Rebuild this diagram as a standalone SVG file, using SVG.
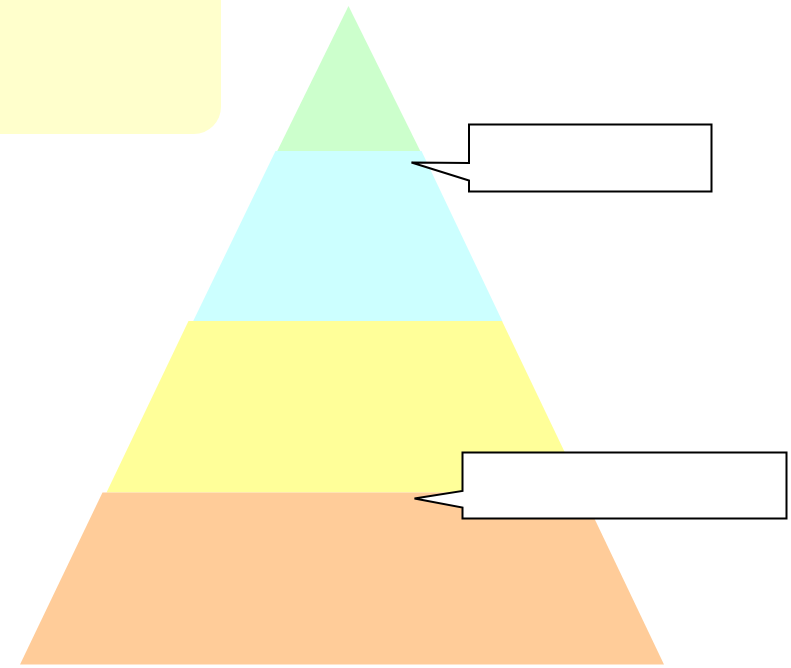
<svg xmlns="http://www.w3.org/2000/svg" width="791" height="668" viewBox="0 0 791 668">
<style>
.layer{stroke:none}
.callout{fill:#FFFFFF;stroke:#000000;stroke-width:2;stroke-linejoin:miter}
</style>
<rect x="0" y="0" width="791" height="668" fill="#FFFFFF"/>
<g id="note-bg"><rect x="-40" y="-40" width="261" height="174" rx="27" ry="27" fill="#FFFFCC"/></g>
<g id="pyramid">
<g id="layer-top"><polygon class="layer" fill="#CCFFCC" points="348.5,6 277,151.5 420.5,151.5"/></g>
<g id="layer-2"><polygon class="layer" fill="#CCFFFF" points="275.5,151 421.5,151 502.5,321.5 193,321.5"/></g>
<g id="layer-3"><polygon class="layer" fill="#FFFF99" points="188.5,321 502,321 584,492.5 106.5,492.5"/></g>
<g id="layer-4"><polygon class="layer" fill="#FFCC99" points="102.5,492.5 582,492.5 664,664.5 20,664.5"/></g>
</g>
<g id="connectors"></g>
<g id="callout-1"><path class="callout" d="M469,124.5 L711.5,124.5 L711.5,191.5 L469,191.5 L469,180.5 L411.5,162.5 L469,163 Z"/></g>
<g id="callout-2"><path class="callout" d="M462.5,452.5 L786.5,452.5 L786.5,518.5 L462.5,518.5 L462.5,507.5 L414.5,498.5 L462.5,491 Z"/></g>
</svg>
